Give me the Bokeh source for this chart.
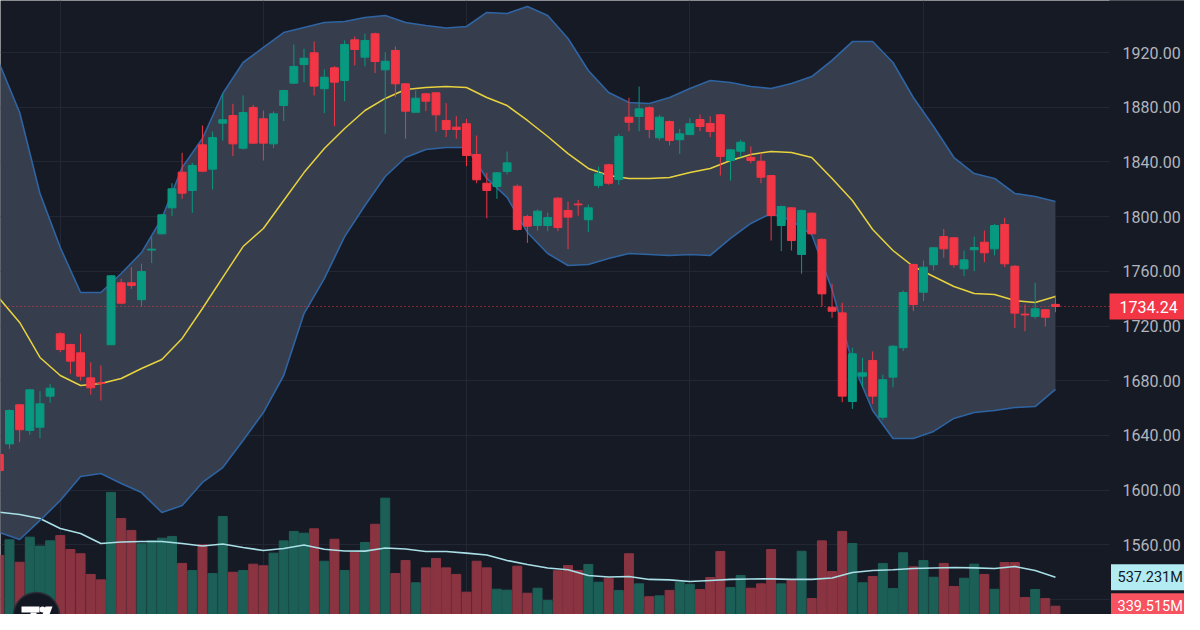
import numpy as np
from bokeh.plotting import figure
from bokeh.models import Range1d, FixedTicker, ColumnDataSource
from bokeh.core.properties import value
from bokeh.embed import file_html
from bokeh.resources import INLINE

# ---------------- data ----------------
opens = [1626.0, 1633.8, 1662.4, 1643.6, 1646.0, 1668.7, 1714.3, 1706.5, 1700.4, 1682.1,
         1678.5, 1706.3, 1751.6, 1751.6, 1739.2, 1775.5, 1787.4, 1806.4, 1832.5, 1819.1,
         1852.5, 1834.7, 1868.3, 1873.9, 1850.0, 1879.8, 1871.5, 1853.2, 1881.2, 1897.6,
         1911.2, 1919.8, 1893.5, 1908.8, 1899.5, 1929.3, 1916.6, 1933.7, 1907.3, 1921.5,
         1897.1, 1876.3, 1889.8, 1890.5, 1870.3, 1865.4, 1867.9, 1845.4, 1824.4, 1822.0,
         1833.0, 1822.2, 1800.1, 1793.5, 1793.5, 1813.5, 1804.5, 1809.2, 1797.7, 1822.7,
         1837.9, 1827.1, 1872.7, 1873.2, 1879.6, 1857.6, 1869.5, 1856.2, 1860.0, 1871.0,
         1868.1, 1874.4, 1841.0, 1847.8, 1843.4, 1840.5, 1830.0, 1793.5, 1806.4, 1772.3,
         1802.5, 1783.3, 1733.7, 1729.6, 1664.8, 1683.3, 1694.8, 1653.3, 1682.6, 1704.1,
         1765.0, 1744.7, 1764.8, 1785.4, 1784.5, 1761.8, 1775.7, 1781.3, 1776.4, 1794.2,
         1763.7, 1728.7, 1727.0, 1731.9, 1735.8]
highs = [1628.0, 1659.0, 1663.0, 1674.0, 1672.3, 1677.7, 1715.5, 1707.0, 1714.3, 1693.5,
         1691.1, 1757.0, 1754.5, 1763.0, 1765.5, 1785.0, 1802.0, 1824.4, 1846.7, 1839.3,
         1866.6, 1862.2, 1889.8, 1882.5, 1888.6, 1881.7, 1877.6, 1876.9, 1892.7, 1925.8,
         1922.7, 1928.0, 1907.6, 1910.0, 1928.8, 1931.7, 1933.7, 1934.5, 1920.2, 1924.4,
         1897.5, 1892.2, 1890.5, 1891.0, 1882.9, 1873.4, 1871.5, 1859.3, 1832.0, 1832.5,
         1847.6, 1823.5, 1801.3, 1805.2, 1802.8, 1814.2, 1811.0, 1812.3, 1808.8, 1836.6,
         1838.6, 1860.5, 1886.9, 1895.1, 1880.7, 1874.4, 1870.3, 1864.2, 1872.2, 1874.7,
         1873.4, 1875.0, 1849.5, 1856.2, 1851.3, 1846.4, 1830.5, 1808.0, 1807.0, 1805.0,
         1803.2, 1784.2, 1750.9, 1737.0, 1704.1, 1696.7, 1701.4, 1684.5, 1706.2, 1746.0,
         1765.5, 1767.9, 1777.7, 1791.0, 1785.0, 1775.2, 1785.4, 1789.8, 1794.7, 1799.1,
         1764.5, 1735.7, 1751.6, 1732.5, 1742.3]
lows = [1612.0, 1630.2, 1635.0, 1640.4, 1638.0, 1663.8, 1700.8, 1685.0, 1680.1, 1669.9,
        1665.5, 1706.0, 1736.0, 1747.2, 1734.3, 1766.0, 1787.0, 1800.3, 1813.0, 1802.8,
        1832.5, 1819.8, 1855.6, 1844.2, 1849.0, 1853.0, 1841.0, 1850.0, 1869.8, 1897.0,
        1898.3, 1888.6, 1875.6, 1866.1, 1884.4, 1910.5, 1909.8, 1904.9, 1860.5, 1887.3,
        1856.9, 1876.0, 1877.1, 1862.2, 1858.1, 1856.9, 1836.9, 1824.4, 1798.8, 1813.0,
        1830.8, 1789.8, 1780.8, 1789.8, 1789.3, 1789.3, 1776.2, 1800.6, 1788.6, 1820.8,
        1823.3, 1823.3, 1862.4, 1862.4, 1857.3, 1855.6, 1852.0, 1845.9, 1859.5, 1862.4,
        1858.1, 1830.0, 1826.4, 1843.4, 1839.0, 1824.4, 1782.5, 1774.7, 1775.2, 1758.2,
        1787.0, 1734.3, 1726.0, 1664.3, 1659.4, 1675.2, 1663.0, 1651.4, 1675.2, 1701.6,
        1730.8, 1738.2, 1760.6, 1769.9, 1762.6, 1756.4, 1760.1, 1766.7, 1771.6, 1763.0,
        1718.4, 1716.2, 1725.3, 1719.6, 1730.1]
closes = [1614.3, 1658.2, 1644.1, 1673.3, 1663.1, 1674.5, 1702.8, 1694.3, 1683.3, 1674.8,
          1678.0, 1756.7, 1736.7, 1749.6, 1759.9, 1776.2, 1801.3, 1820.3, 1817.1, 1837.4,
          1833.2, 1857.8, 1870.8, 1853.2, 1876.1, 1853.7, 1853.7, 1875.2, 1892.2, 1909.8,
          1915.8, 1895.4, 1901.9, 1898.3, 1925.8, 1922.2, 1928.8, 1913.4, 1913.6, 1897.1,
          1877.1, 1886.6, 1884.4, 1874.4, 1863.7, 1863.7, 1844.7, 1826.9, 1819.1, 1832.0,
          1839.3, 1790.6, 1793.0, 1804.0, 1799.3, 1792.0, 1799.6, 1808.6, 1806.4, 1831.3,
          1824.4, 1858.6, 1869.0, 1878.8, 1863.7, 1872.7, 1855.6, 1860.5, 1867.9, 1865.9,
          1862.2, 1844.0, 1848.8, 1854.4, 1841.0, 1828.8, 1800.8, 1807.4, 1782.5, 1804.5,
          1787.4, 1743.5, 1730.8, 1668.7, 1699.7, 1685.8, 1668.7, 1680.7, 1705.2, 1744.5,
          1735.7, 1763.0, 1777.2, 1776.4, 1764.8, 1768.4, 1777.4, 1773.5, 1793.5, 1765.5,
          1729.4, 1728.1, 1732.6, 1726.4, 1734.24]
volumes_m = [685, 792, 639, 810, 749, 785, 821, 726, 697, 556,
             519, 1115, 937, 856, 765, 787, 803, 815, 631, 583,
             758, 562, 951, 571, 583, 626, 615, 701, 785, 849,
             837, 867, 646, 796, 583, 708, 774, 898, 1076, 562,
             651, 499, 601, 665, 601, 556, 435, 646, 601, 455,
             449, 612, 428, 462, 378, 581, 617, 583, 624, 503,
             530, 447, 697, 492, 404, 410, 447, 503, 489, 453,
             535, 712, 467, 549, 462, 492, 726, 492, 515, 714,
             392, 785, 576, 849, 767, 499, 542, 631, 460, 704,
             608, 651, 537, 631, 474, 530, 626, 556, 455, 637,
             637, 399, 453, 392, 339.515]

# Bollinger band and volume-MA readings, one every second candle
band_index = list(range(0, 105, 2))
bb_upper = [1912.0, 1876.1, 1816.9, 1777.4, 1744.5, 1744.5, 1758.4, 1773.7, 1798.6, 1835.9,
            1857.1, 1890.0, 1912.7, 1923.7, 1934.6, 1938.3, 1941.9, 1942.7, 1945.6, 1947.1,
            1941.9, 1939.7, 1937.9, 1939.0, 1949.3, 1948.5, 1953.6, 1947.1, 1930.2, 1906.8,
            1890.7, 1883.4, 1882.7, 1887.1, 1893.7, 1899.5, 1898.1, 1895.1, 1893.7, 1897.3,
            1902.4, 1914.2, 1928.0, 1928.0, 1912.7, 1887.1, 1865.9, 1843.2, 1831.5, 1827.9,
            1816.9, 1814.7, 1811.0]
bb_mid = [1740.1, 1722.6, 1697.0, 1683.8, 1676.5, 1678.0, 1681.6, 1688.9, 1695.5, 1710.9,
          1732.8, 1755.5, 1778.1, 1791.3, 1811.8, 1832.2, 1849.8, 1864.4, 1877.6, 1886.4,
          1892.9, 1894.4, 1895.1, 1894.4, 1887.1, 1881.2, 1870.3, 1858.6, 1846.1, 1835.2,
          1830.1, 1827.9, 1827.9, 1828.6, 1832.2, 1835.2, 1841.0, 1845.4, 1847.6, 1846.9,
          1843.2, 1827.9, 1811.8, 1790.6, 1775.2, 1763.5, 1756.2, 1748.9, 1743.8, 1743.0,
          1738.6, 1737.2, 1741.6]
bb_lower = [1569.0, 1563.9, 1577.8, 1592.4, 1610.0, 1612.1, 1604.8, 1598.2, 1583.6, 1588.7,
            1605.6, 1616.5, 1636.3, 1656.7, 1683.8, 1729.1, 1754.7, 1785.4, 1808.1, 1829.3,
            1843.2, 1849.1, 1850.5, 1850.5, 1827.9, 1814.0, 1788.4, 1773.0, 1764.2, 1765.0,
            1769.4, 1773.0, 1772.3, 1771.6, 1772.3, 1771.6, 1784.0, 1795.0, 1802.3, 1797.1,
            1786.9, 1746.7, 1693.3, 1658.2, 1637.7, 1637.7, 1642.9, 1652.4, 1656.7, 1658.2,
            1660.4, 1661.1, 1673.6]
vol_ma_m = [980, 965, 937, 869, 835, 767, 777, 781, 781, 767,
            750, 764, 740, 719, 733, 757, 728, 716, 715, 736,
            729, 712, 712, 701, 689, 651, 624, 600, 588, 549,
            539, 542, 522, 519, 508, 515, 522, 525, 526, 522,
            522, 532, 569, 583, 588, 596, 600, 603, 601, 596,
            610, 583, 537.231]

price_ticks = [1520, 1560, 1600, 1640, 1680, 1720, 1760, 1800, 1840, 1880, 1920]
labelled_ticks = [1560, 1600, 1640, 1680, 1720, 1760, 1800, 1840, 1880, 1920]
month_starts = [6, 26, 46, 68, 91]
last_price = 1734.24
last_volume = 339.515
last_vol_ma = 537.231

# ---------------- styling ----------------
BG = "#161a25"
GRID = "#232734"
UP = "#089981"
DOWN = "#f23645"
VUP = "#1c5f57"
VDOWN = "#8b3441"
FONT = value("Roboto")

# pixel geometry of the reference (figure pixels)
STEP = 10.155      # px per candle
X0 = -1.15         # x of candle 0
def px2x(px):
    return (px - X0) / STEP

P_REF, Y_REF, PPU = 1920.0, 52.0, 1.3675   # price, y pixel, px per price unit
def py2price(py):
    return P_REF - (py - Y_REF) / PPU

V_BASE, V_PPM = 655.5, 0.1467               # y pixel of zero volume, px per M
def py2vol(py):
    return (V_BASE - py) / V_PPM

W, H = 1184, 614
PANE_R = 1109      # right edge of the price pane; the scale column sits right of it

p = figure(width=W, height=H, output_backend="svg", toolbar_location=None,
           x_range=Range1d(px2x(0), px2x(W)),
           y_range=Range1d(py2price(H), py2price(0)),
           x_axis_location=None, y_axis_location=None,
           background_fill_color=BG, border_fill_color=BG,
           min_border_left=0, min_border_top=0, min_border_bottom=0, min_border_right=0)
p.outline_line_color = None
p.extra_y_ranges = {"vol": Range1d(py2vol(H), py2vol(0))}

p.ygrid.ticker = FixedTicker(ticks=price_ticks)
p.ygrid.grid_line_color = GRID
p.xgrid.ticker = FixedTicker(ticks=month_starts)
p.xgrid.grid_line_color = GRID

# price-scale column (covers the grid to the right of the pane)
p.quad(left=px2x(PANE_R), right=px2x(W + 20), bottom=py2price(H + 20), top=py2price(-20),
       fill_color=BG, line_color=None)

# Bollinger band area
p.varea(x=band_index, y1=bb_lower, y2=bb_upper, fill_color="#363d4d", fill_alpha=1.0)

# volume
idx = np.arange(len(opens))
o = np.array(opens); c = np.array(closes)
up = c >= o
vsrc = ColumnDataSource(dict(x=idx, top=volumes_m,
                             color=[VUP if u else VDOWN for u in up]))
p.vbar(x="x", top="top", bottom=0, width=0.88, source=vsrc, y_range_name="vol",
       fill_color="color", line_color="color")
p.line(band_index, vol_ma_m, y_range_name="vol", line_color="#a9dfe6", line_width=1.6)

# band lines
p.line(band_index, bb_upper, line_color="#2f64a3", line_width=1.6)
p.line(band_index, bb_lower, line_color="#2f64a3", line_width=1.6)
p.line(band_index, bb_mid, line_color="#e8d33f", line_width=1.5)

# last price line (pane width only)
p.segment(x0=[px2x(0)], y0=[last_price], x1=[px2x(PANE_R)], y1=[last_price],
          line_color=DOWN, line_width=1, line_dash="1 3")

# candles
csrc = ColumnDataSource(dict(x=idx, o=o, c=c, h=highs, l=lows,
                             top=np.maximum(o, c), bot=np.minimum(o, c),
                             color=[UP if u else DOWN for u in up]))
p.segment(x0="x", y0="l", x1="x", y1="h", source=csrc, line_color="color", line_width=1)
p.vbar(x="x", top="top", bottom="bot", width=0.78, source=csrc,
       fill_color="color", line_color="color", line_width=1)

# price scale labels
p.text(x=[px2x(1122)] * len(labelled_ticks), y=labelled_ticks,
       text=[f"{t:.2f}" for t in labelled_ticks],
       text_align="left", text_baseline="middle", text_color="#b2b5be",
       text_font=FONT, text_font_size="16px")

# last price tag
p.rect(x=[px2x(1148)], y=[last_price], width=78, height=26,
       width_units="screen", height_units="screen", fill_color=DOWN, line_color=None)
p.text(x=[px2x(1119)], y=[last_price], text=[f"{last_price:.2f}"],
       text_align="left", text_baseline="middle", text_color="#ffffff",
       text_font=FONT, text_font_size="16px")

# volume MA tag and last volume tag
p.rect(x=[px2x(1154)], y=[last_vol_ma], width=87, height=26, y_range_name="vol",
       width_units="screen", height_units="screen", fill_color="#b2ebf2", line_color=None)
p.text(x=[px2x(1117)], y=[last_vol_ma], y_range_name="vol", text=[f"{last_vol_ma:.3f}M"],
       text_align="left", text_baseline="middle", text_color="#131722",
       text_font=FONT, text_font_size="14.5px")
p.rect(x=[px2x(1154)], y=[last_volume], width=87, height=26, y_range_name="vol",
       width_units="screen", height_units="screen", fill_color="#f7525f", line_color=None)
p.text(x=[px2x(1117)], y=[last_volume], y_range_name="vol", text=[f"{last_volume:.3f}M"],
       text_align="left", text_baseline="middle", text_color="#ffffff",
       text_font=FONT, text_font_size="14.5px")

# watermark badge (bottom-left)
p.scatter([px2x(36)], [py2price(615)], size=46, fill_color="#131722",
          line_color="#2a2e39", line_width=1.5)
p.patch([px2x(v) for v in (21, 39, 39, 21)],
        [py2price(v) for v in (606, 606, 612, 612)],
        fill_color="#ffffff", line_color=None)
p.patch([px2x(v) for v in (30, 36, 36, 30)],
        [py2price(v) for v in (612, 612, 622, 622)],
        fill_color="#ffffff", line_color=None)
p.scatter([px2x(42)], [py2price(609)], size=6, fill_color="#ffffff", line_color=None)
p.patch([px2x(v) for v in (45, 52, 46, 39)],
        [py2price(v) for v in (606, 606, 622, 622)],
        fill_color="#ffffff", line_color=None)

html = file_html(p, INLINE, title="Chart")
html = html.replace("<body", '<body style="background-color:#161a25;"', 1)
open("out.html", "w").write(html)
